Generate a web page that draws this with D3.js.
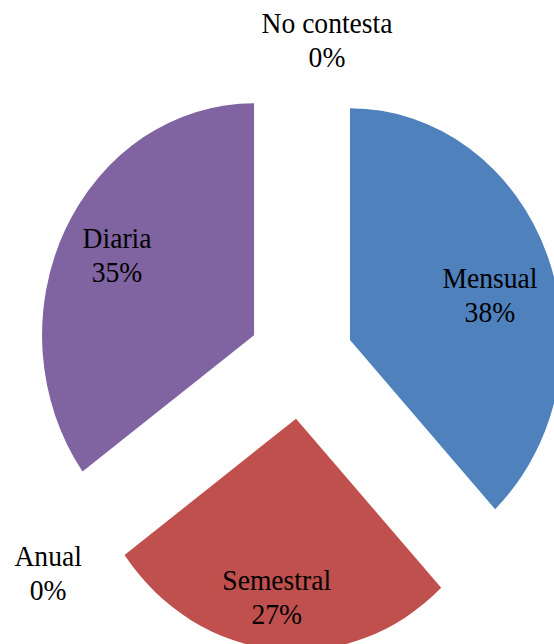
<!DOCTYPE html>
<html>
<head>
<meta charset="utf-8">
<script src="https://cdn.jsdelivr.net/npm/d3@7"></script>
<style>
  html, body { margin: 0; padding: 0; background: #ffffff; }
  svg { display: block; }
  text.lbl { font-family: "Liberation Serif", "Times New Roman", Times, "Nimbus Roman", "DejaVu Serif", serif; }
</style>
</head>
<body>
<svg id="chart" width="554" height="644"></svg>
<script>
// ---- data ----
const categories = ["Mensual", "Semestral", "Anual", "Diaria", "No contesta"];
const values = [38, 27, 0, 35, 0];
const percentLabels = ["38%", "27%", "0%", "35%", "0%"];
const colors = ["#4F81BD", "#C0504D", "#9BBB59", "#8064A2", "#4BACC6"];

// ---- layout (not data) ----
const W = 554, H = 644;
const cx = 301, cy = 361.3;
const R = 212;          // horizontal radius
const stretch = 1.094;  // vertical stretch of the picture
const explode = 52.7;
const labelNudge = [[-2, 15], [-5, 11], [-13, 19], [-1, -4], [26, 3]];
const fontSize = 27.6, lineGap = 31, capH = 0.662 * fontSize;

const svg = d3.select("#chart");
const g = svg.append("g")
  .attr("transform", `translate(${cx},${cy}) scale(1,${stretch})`);

const pie = d3.pie().sort(null).value(d => d.value).startAngle(0).endAngle(2 * Math.PI);
const data = categories.map((c, i) => ({ name: c, value: values[i], pct: percentLabels[i], color: colors[i], i }));
const arcs = pie(data);
const arc = d3.arc().innerRadius(0).outerRadius(R);

function offset(a, r) { return [Math.sin(a) * r, -Math.cos(a) * r]; }

g.selectAll("path.slice")
  .data(arcs.filter(d => d.value > 0))
  .enter().append("path")
  .attr("class", "slice")
  .attr("d", arc)
  .attr("fill", d => d.data.color)
  .attr("transform", d => {
    const m = (d.startAngle + d.endAngle) / 2;
    const [ox, oy] = offset(m, explode);
    return `translate(${ox},${oy})`;
  });

g.selectAll("text.lbl")
  .data(arcs)
  .enter().append("text")
  .attr("class", "lbl")
  .attr("text-anchor", "middle")
  .attr("font-size", fontSize)
  .attr("fill", "#000")
  .each(function (d) {
    const m = (d.startAngle + d.endAngle) / 2;
    const k = d.value > 0 ? 0.72 * R : 1.15 * R;
    const [x, y] = offset(m, k + explode);
    const n = labelNudge[d.data.i];
    const ax = x + n[0], ay = y + n[1];
    const b1 = ay - (lineGap - capH) / 2;
    const t = d3.select(this);
    t.append("tspan").attr("x", ax).attr("y", b1).text(d.data.name);
    t.append("tspan").attr("x", ax).attr("y", b1 + lineGap).text(d.data.pct);
  });
</script>
</body>
</html>
